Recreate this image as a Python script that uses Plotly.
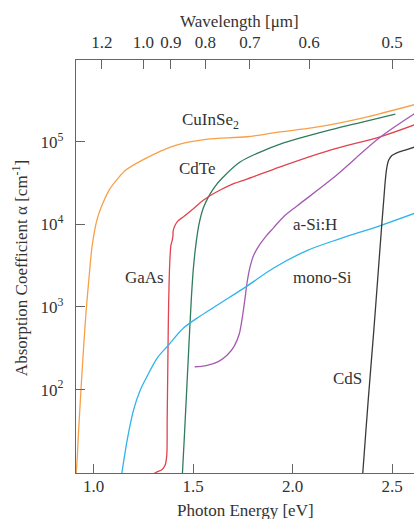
import math
import plotly.graph_objects as go

# Photon energy (eV) / absorption coefficient (cm^-1) for each absorber
cuinse2_e = [0.905, 0.913, 0.925, 0.937, 0.950, 0.963, 0.981, 0.992, 1.005, 1.020, 1.039,
             1.080, 1.124, 1.164, 1.248, 1.332, 1.416, 1.566, 1.771, 1.938, 2.104, 2.355,
             2.620]
cuinse2_a = [7.9, 10.0, 31.6, 100.0, 316.0, 900.0, 2820.0, 5250.0, 8300.0, 12000.0, 16200.0,
             26300.0, 36300.0, 45700.0, 60300.0, 75900.0, 91200.0, 107000.0, 115000.0,
             132000.0, 148000.0, 195000.0, 285000.0]

cdte_e = [1.445, 1.447, 1.463, 1.478, 1.491, 1.501, 1.514, 1.529, 1.551, 1.578, 1.612,
          1.647, 1.736, 1.837, 1.938, 2.189, 2.340, 2.516]
cdte_a = [8.5, 10.0, 56.0, 300.0, 1210.0, 2800.0, 5620.0, 9820.0, 15700.0, 21700.0, 29100.0,
          36400.0, 56800.0, 75000.0, 93800.0, 139000.0, 171000.0, 216000.0]

gaas_e = [1.300, 1.319, 1.345, 1.360, 1.368, 1.370, 1.373, 1.376, 1.380, 1.385, 1.389,
          1.395, 1.399, 1.400, 1.408, 1.421, 1.452, 1.503, 1.553, 1.620, 1.687, 1.771,
          1.938, 2.189, 2.440, 2.620]
gaas_a = [9.5, 10.1, 10.8, 12.2, 16.1, 42.8, 172.0, 693.0, 2120.0, 4250.0, 5610.0,
          6370.0, 7210.0, 8300.0, 9530.0, 10800.0, 12400.0, 15600.0, 19700.0, 24800.0,
          29900.0, 35300.0, 49800.0, 79400.0, 115000.0, 163000.0]

asih_e = [1.5085, 1.566, 1.627, 1.672, 1.707, 1.732, 1.747, 1.760, 1.771, 1.785, 1.805,
          1.833, 1.863, 1.903, 1.955, 2.022, 2.200, 2.441, 2.620]
asih_a = [189.0, 195.0, 218.0, 262.0, 336.0, 470.0, 735.0, 1210.0, 1950.0, 2960.0, 4250.0,
          5610.0, 7020.0, 9020.0, 12400.0, 16700.0, 35800.0, 114000.0, 225000.0]

monosi_e = [1.138, 1.143, 1.169, 1.201, 1.235, 1.268, 1.319, 1.377, 1.452, 1.536, 1.637,
            1.771, 1.905, 2.072, 2.240, 2.441, 2.620]
monosi_a = [8.5, 10.0, 24.5, 56.5, 98.6, 143.0, 239.0, 346.0, 556.0, 776.0, 1110.0,
            1790.0, 2960.0, 4820.0, 6730.0, 9660.0, 13800.0]

cds_e = [2.350, 2.353, 2.380, 2.407, 2.431, 2.448, 2.458, 2.466, 2.473, 2.483, 2.499,
         2.521, 2.566, 2.620]
cds_a = [8.0, 10.0, 74.6, 483.0, 2800.0, 9820.0, 19700.0, 34400.0, 48100.0, 60000.0,
         68100.0, 73000.0, 79400.0, 87500.0]

# Secondary (top) axis: wavelength ticks in micrometres
wavelength_ticks = [1.2, 1.0, 0.9, 0.8, 0.7, 0.6, 0.5]
wavelength_text = ["1.2", "1.0", "0.9", "0.8", "0.7", "0.6", "0.5"]
HC_EV_UM = 1.25  # E[eV] = HC / lambda[um] as used for the top scale

energy_ticks = [1.0, 1.5, 2.0, 2.5]
energy_text = ["1.0", "1.5", "2.0", "2.5"]
alpha_ticks = [1e2, 1e3, 1e4, 1e5]
alpha_text = ["10<sup>2</sup>", "10<sup>3</sup>", "10<sup>4</sup>", "10<sup>5</sup>"]

# Curve label text and anchor (eV, alpha)
labels = [
    ("CuInSe<sub>2</sub>", 1.589, 1.78e5),
    ("CdTe", 1.521, 4.7e4),
    ("GaAs", 1.255, 2.3e3),
    ("a-Si:H", 2.114, 1.0e4),
    ("mono-Si", 2.149, 2.3e3),
    ("CdS", 2.275, 138.0),
]

series = [
    ("CuInSe2", cuinse2_e, cuinse2_a, "#F7A048"),
    ("CdTe", cdte_e, cdte_a, "#2E7D5C"),
    ("GaAs", gaas_e, gaas_a, "#E0434F"),
    ("a-Si:H", asih_e, asih_a, "#A45BB1"),
    ("mono-Si", monosi_e, monosi_a, "#2FB4E9"),
    ("CdS", cds_e, cds_a, "#3A3A3A"),
]

FONT = "Liberation Serif"
TXT = "#333333"
AX = "#666666"

fig = go.Figure()
for name, e, a, col in series:
    fig.add_trace(go.Scatter(
        x=e, y=a, mode="lines", name=name,
        line=dict(color=col, width=1.3, shape="spline", smoothing=0.9),
        showlegend=False, hoverinfo="skip",
    ))

# empty trace bound to the wavelength axis so it is laid out
fig.add_trace(go.Scatter(x=[], y=[], xaxis="x2", yaxis="y", showlegend=False))

X_RANGE = [0.912, 2.61]

fig.update_layout(
    width=414, height=519,
    margin=dict(l=76, r=0, t=60, b=46),
    paper_bgcolor="white", plot_bgcolor="white",
    font=dict(family=FONT, size=17, color=TXT),
    xaxis=dict(
        range=X_RANGE, tickvals=energy_ticks, ticktext=energy_text,
        ticks="inside", ticklen=9, tickwidth=1.3, tickcolor=AX,
        showline=True, linecolor=AX, linewidth=1.4, mirror=False,
        showgrid=False, zeroline=False, ticklabelstandoff=-3,
    ),
    xaxis2=dict(
        range=X_RANGE, overlaying="x", side="top", anchor="y",
        tickvals=[HC_EV_UM / w for w in wavelength_ticks], ticktext=wavelength_text,
        ticks="inside", ticklen=9, tickwidth=1.3, tickcolor=AX,
        showline=True, linecolor=AX, linewidth=1.4,
        showgrid=False, zeroline=False, ticklabelstandoff=4,
    ),
    yaxis=dict(
        type="log", range=[0.99, 5.99], tickvals=alpha_ticks, ticktext=alpha_text,
        ticks="inside", ticklen=9, tickwidth=1.3, tickcolor=AX,
        showline=True, linecolor=AX, linewidth=1.4, mirror=False,
        showgrid=False, zeroline=False, ticklabelstandoff=8,
    ),
)

annotations = []
for text, e, a in labels:
    annotations.append(dict(x=e, y=math.log10(a), xref="x", yref="y",
                            text=text, showarrow=False,
                            xanchor="center", yanchor="middle",
                            font=dict(family=FONT, size=17, color=TXT)))

annotations += [
    dict(x=0.485, y=1.093, xref="paper", yref="paper", text="Wavelength [μm]",
         xanchor="center", yanchor="middle",
         showarrow=False, font=dict(family=FONT, size=17, color=TXT)),
    dict(x=0.5, y=-0.0896, xref="paper", yref="paper", text="Photon Energy [eV]",
         xanchor="center", yanchor="middle",
         showarrow=False, font=dict(family=FONT, size=17, color=TXT)),
    dict(x=-0.1657, y=0.496, xref="paper", yref="paper",
         text="Absorption Coefficient α [cm<sup>-1</sup>]", textangle=-90,
         xanchor="center", yanchor="middle",
         showarrow=False, font=dict(family=FONT, size=17, color=TXT)),
]
fig.update_layout(annotations=annotations)

fig.write_html("out.html")
